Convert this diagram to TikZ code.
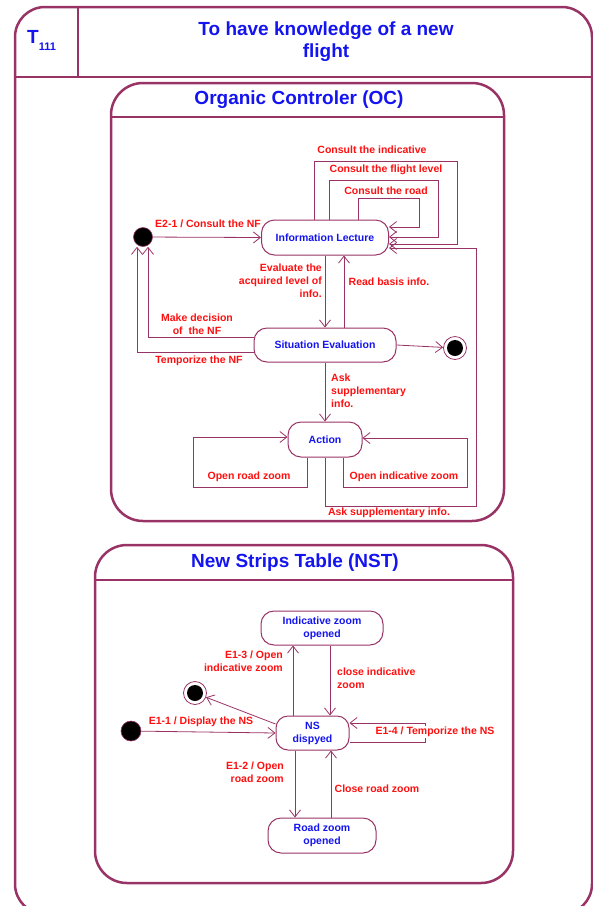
\documentclass[tikz,border=0pt]{standalone}
\usepackage{fontspec}
\setmainfont{Liberation Sans}
\usetikzlibrary{arrows.meta,calc}
\definecolor{frame}{RGB}{153,51,102}
\definecolor{lblred}{RGB}{255,15,15}
\definecolor{stblue}{RGB}{20,20,240}
\begin{document}
\begin{tikzpicture}[x=1pt,y=-1pt,
  frameline/.style={draw=frame,line width=2.5pt},
  statebox/.style={draw=frame,line width=1pt,rounded corners=13pt,fill=white,
    text=stblue,font=\fontsize{10.5}{13}\selectfont\bfseries,align=center,inner sep=0pt},
  lbl/.style={text=lblred,font=\fontsize{10.5}{13}\selectfont\bfseries,inner sep=0pt},
  bigtitle/.style={text=stblue,font=\fontsize{19}{22}\selectfont\bfseries,align=center,inner sep=0pt},
  arr/.style={draw=frame,line width=0.8pt,-{Straight Barb[length=7pt,width=11pt]}},
  initst/.style={circle,fill=black,draw=frame,line width=0.6pt,minimum size=19pt,inner sep=0pt},
  finalst/.style={circle,draw=frame,line width=0.8pt,minimum size=23pt,inner sep=0pt,
    path picture={\fill[black] (path picture bounding box.center) circle (8pt);}},
]
\useasboundingbox (0,0) rectangle (593,906);

% ---------- outer frame and header ----------
\begin{scope}
\clip (0,0) rectangle (593,906);
\draw[frameline,rounded corners=30pt] (15,7) rectangle (592,914);
\end{scope}
\draw[frameline] (15,77) -- (592,77);
\draw[frameline] (78,7) -- (78,77);
\node[anchor=base west,text=stblue,inner sep=0pt] (tid) at (27,43)
  {\fontsize{19}{19}\selectfont\bfseries T\raisebox{-7pt}{\fontsize{11}{11}\selectfont 111}};
\node[bigtitle] (ttl) at (326,42) {To have knowledge of a new\\flight};

% ---------- Organic Controler ----------
\draw[frameline,rounded corners=32pt] (111,83) rectangle (504,521);
\draw[frameline] (111,117) -- (504,117);
\node[bigtitle] (octitle) at (299,100) {Organic Controler (OC)};

\node[initst] (S0) at (143,237) {};
\node[statebox,minimum width=127pt,minimum height=35pt] (IL) at (325,237.5) {Information Lecture};
\node[statebox,minimum width=142pt,minimum height=34pt] (SE) at (325,345) {Situation Evaluation};
\node[statebox,minimum width=74pt,minimum height=35pt] (AC) at (325,439.5) {Action};
\node[finalst] (F1) at (455,348) {};

\draw[arr] (S0) -- (IL.west);
\node[lbl] (l1) at (208,224) {E2-1 / Consult the NF};

% self loops on Information Lecture
\draw[arr] ([xshift=33pt]IL.north) |- (419,198) |- ([yshift=10.5pt]IL.east);
\node[lbl] (l2) at (386,191) {Consult the road};
\draw[arr] ([xshift=4pt]IL.north) |- (438,180) |- ([yshift=0.5pt]IL.east);
\node[lbl] (l3) at (386,170) {Consult the flight level};
\draw[arr] ([xshift=-11pt]IL.north) |- (457,161) |- ([yshift=-6.5pt]IL.east);
\node[lbl] (l4) at (372,150) {Consult the indicative};

% Information Lecture <-> Situation Evaluation
\draw[arr] (IL.south) -- (SE.north);
\node[lbl,align=right,anchor=east] (l5) at (322,281) {Evaluate the\\acquired level of\\info.};
\draw[arr] ([xshift=19pt]SE.north) -- ([xshift=19pt]IL.south);
\node[lbl] (l6) at (389,282) {Read basis info.};

% back to the initial state
\draw[arr] ([yshift=8pt]SE.west) -| ([xshift=5pt]S0.south);
\node[lbl,align=center] (l7) at (197,324) {Make decision\\of\ \ the NF};
\draw[arr] ([yshift=-7pt]SE.west) -| ([xshift=-6pt]S0.south);
\node[lbl] (l8) at (199,361) {Temporize the NF};

\draw[arr] (SE.east) -- (F1);

% Situation Evaluation -> Action
\draw[arr] (SE.south) -- (AC.north);
\node[lbl,align=left,anchor=west] (l9) at (331,391) {Ask\\supplementary\\info.};

% self loops on Action
\draw[arr] ([xshift=-18pt]AC.south) |- (193,487) |- ([yshift=2.5pt]AC.west);
\node[lbl] (l10) at (249,477) {Open road zoom};
\draw[arr] ([xshift=18pt]AC.south) |- (467,487) |- ([yshift=1.5pt]AC.east);
\node[lbl] (l11) at (404,477) {Open indicative zoom};

% Action -> Information Lecture
\draw[arr] (AC.south) |- (476,506) |- ([yshift=-10.5pt]IL.east);
\node[lbl] (l12) at (389,513) {Ask supplementary info.};

% ---------- New Strips Table ----------
\draw[frameline,rounded corners=32pt] (95,545) rectangle (513,883);
\draw[frameline] (95,580) -- (513,580);
\node[bigtitle] (nsttitle) at (295,563) {New Strips Table (NST)};

\node[statebox,minimum width=122pt,minimum height=34pt] (IZ) at (322,628) {Indicative zoom\\opened};
\node[statebox,minimum width=73pt,minimum height=34pt,rounded corners=12pt] (NS) at (312.5,733) {NS\\dispyed};
\node[statebox,minimum width=108pt,minimum height=35pt] (RZ) at (322,835.5) {Road zoom\\opened};
\node[initst,minimum size=20pt] (I2) at (131,731) {};
\node[finalst] (F2) at (195,693) {};

\draw[arr] (I2) -- (NS.west);
\node[lbl] (m1) at (201,722) {E1-1 / Display the NS};

\draw[arr] ([yshift=9pt]NS.west) -- (F2);

\draw[arr] ([xshift=-19.5pt]NS.north) -- ([xshift=-19.5pt]NS.north |- IZ.south);
\node[lbl,align=right,anchor=east] (m2) at (283,661) {E1-3 / Open\\indicative zoom};
\draw[arr] ([xshift=8pt]IZ.south) -- ([xshift=8pt]IZ.south |- NS.north);
\node[lbl,align=left,anchor=west] (m3) at (337,678) {close indicative\\zoom};

\draw[arr] ([yshift=-9pt]NS.east) -- ++(76,0) |- ([yshift=10pt]NS.east);
\node[lbl,fill=white,inner sep=1pt] (m4) at (435,732) {E1-4 / Temporize the NS};

\draw[arr] ([xshift=-17.5pt]NS.south) -- ([xshift=-17.5pt]NS.south |- RZ.north);
\node[lbl,align=right,anchor=east] (m5) at (284,772) {E1-2 / Open\\road zoom};
\draw[arr] ([xshift=9pt]RZ.north) -- ([xshift=9pt]RZ.north |- NS.south);
\node[lbl] (m6) at (377,789) {Close road zoom};
\end{tikzpicture}
\end{document}
